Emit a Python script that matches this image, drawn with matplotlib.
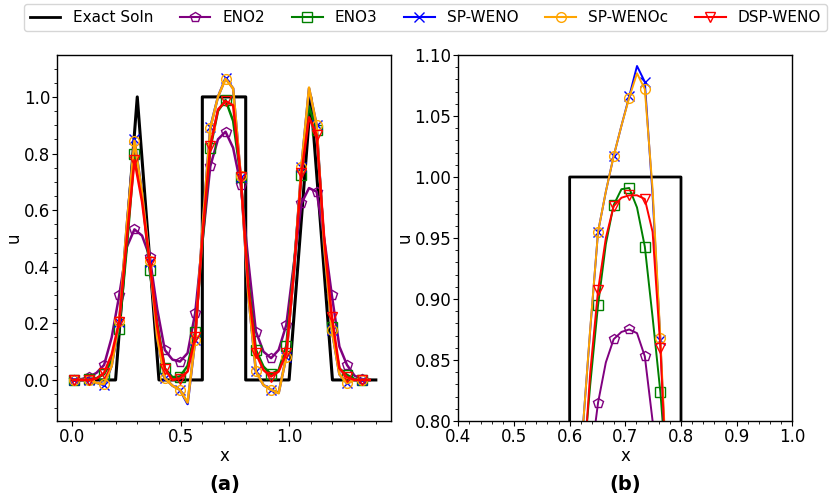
import numpy as np
import matplotlib.pyplot as plt
from matplotlib.lines import Line2D

plt.rcParams.update({
    'font.size': 12,
    'font.family': 'DejaVu Sans',
    'axes.linewidth': 1.0,
    'xtick.major.pad': 1.5,
    'ytick.major.pad': 1.5,
    'axes.labelpad': 0.5,
})

# exact solution (spike, square, triangle)
x_exact = [0.0, 0.2, 0.3, 0.4, 0.6, 0.6, 0.8, 0.8, 1.0, 1.1, 1.2, 1.4]
u_exact = [0.0, 0.0, 1.0, 0.0, 0.0, 1.0, 1.0, 0.0, 0.0, 1.0, 0.0, 0.0]

# panel (a): cell centres, every 0.035
x_a = [0.007, 0.042, 0.077, 0.112, 0.147, 0.182, 0.217, 0.252, 0.287, 0.322,
       0.357, 0.392, 0.427, 0.462, 0.497, 0.532, 0.567, 0.602, 0.637, 0.672,
       0.707, 0.742, 0.777, 0.812, 0.847, 0.882, 0.917, 0.952, 0.987, 1.022,
       1.057, 1.092, 1.127, 1.162, 1.197, 1.232, 1.267, 1.302, 1.337, 1.372]

eno2_a = [0.0, 0.003, 0.01, 0.025, 0.053, 0.15, 0.30, 0.47, 0.532, 0.51,
          0.436, 0.25, 0.106, 0.072, 0.065, 0.095, 0.236, 0.50, 0.756, 0.85,
          0.877, 0.82, 0.689, 0.42, 0.171, 0.10, 0.077, 0.106, 0.194, 0.41,
          0.624, 0.678, 0.665, 0.50, 0.30, 0.118, 0.053, 0.015, 0.003, 0.0]

eno3_a = [0.0, 0.0, 0.002, 0.006, 0.02, 0.07, 0.179, 0.47, 0.80, 0.66,
          0.389, 0.20, 0.041, 0.01, 0.012, 0.05, 0.171, 0.50, 0.819, 0.95,
          0.989, 0.915, 0.718, 0.35, 0.106, 0.047, 0.02, 0.035, 0.12, 0.40,
          0.724, 0.966, 0.883, 0.48, 0.188, 0.04, 0.018, 0.003, 0.0, 0.0]

spweno_a = [0.0, 0.0, 0.0, -0.01, -0.018, 0.05, 0.206, 0.55, 0.85, 0.66,
            0.418, 0.15, 0.006, -0.02, -0.035, -0.085, 0.141, 0.55, 0.893, 1.00,
            1.066, 1.03, 0.718, 0.30, 0.03, -0.018, -0.035, -0.045, 0.082, 0.38,
            0.754, 1.03, 0.90, 0.47, 0.177, 0.02, -0.012, 0.0, 0.0, 0.0]

spwenoc_a = [0.0, 0.0, 0.0, -0.01, -0.015, 0.05, 0.21, 0.55, 0.845, 0.66,
             0.42, 0.15, 0.006, -0.02, -0.035, -0.08, 0.141, 0.55, 0.89, 1.00,
             1.064, 1.03, 0.72, 0.30, 0.03, -0.018, -0.035, -0.047, 0.082, 0.38,
             0.754, 1.033, 0.90, 0.47, 0.177, 0.02, -0.012, 0.0, 0.0, 0.0]

dspweno_a = [0.0, 0.0, 0.0, 0.005, 0.025, 0.09, 0.206, 0.50, 0.777, 0.63,
             0.418, 0.19, 0.04, 0.0, 0.005, 0.03, 0.153, 0.52, 0.827, 0.955,
             0.985, 0.97, 0.718, 0.33, 0.094, 0.035, 0.012, 0.03, 0.094, 0.38,
             0.73, 0.928, 0.866, 0.50, 0.224, 0.041, 0.01, 0.0, 0.0, 0.0]

# panel (b): zoom on the square, cell centres every 0.014
x_b = [0.609, 0.623, 0.637, 0.651, 0.665, 0.679, 0.693,
       0.707, 0.721, 0.735, 0.749, 0.763, 0.777, 0.791]
eno2_b = [0.64, 0.70, 0.765, 0.815, 0.848, 0.867, 0.873,
          0.875, 0.872, 0.853, 0.80, 0.74, 0.66, 0.57]
eno3_b = [0.68, 0.755, 0.83, 0.895, 0.945, 0.977, 0.99,
          0.991, 0.975, 0.943, 0.885, 0.8235, 0.74, 0.62]
spweno_b = [0.70, 0.79, 0.875, 0.955, 0.988, 1.017, 1.042,
            1.066, 1.091, 1.078, 0.985, 0.866, 0.72, 0.55]
spwenoc_b = [0.70, 0.79, 0.876, 0.955, 0.988, 1.017, 1.042,
             1.065, 1.085, 1.072, 0.99, 0.868, 0.73, 0.56]
dspweno_b = [0.66, 0.745, 0.84, 0.907, 0.950, 0.976, 0.983,
             0.985, 0.985, 0.982, 0.955, 0.86, 0.72, 0.58]

labels = ['ENO2', 'ENO3', 'SP-WENO', 'SP-WENOc', 'DSP-WENO']
colors = ['purple', 'green', 'blue', 'orange', 'red']
markers = ['p', 's', 'x', 'o', 'v']

series_a = [eno2_a, eno3_a, spweno_a, spwenoc_a, dspweno_a]
series_b = [eno2_b, eno3_b, spweno_b, spwenoc_b, dspweno_b]


def draw(ax, x, series, lw, lw_exact, markevery):
    ax.plot(x_exact, u_exact, color='black', linewidth=lw_exact)
    for u, c, m in zip(series, colors, markers):
        ax.plot(x, u, color=c, linewidth=lw, marker=m, markersize=7,
                markerfacecolor='none', markeredgecolor=c, markeredgewidth=1.0,
                markevery=markevery)
    ax.minorticks_on()
    ax.set_xlabel('x')
    ax.set_ylabel('u')


fig = plt.figure(figsize=(8.3, 5.01), dpi=100)
ax1 = fig.add_axes([0.0687, 0.1597, 0.4024, 0.7305])
ax2 = fig.add_axes([0.5522, 0.1597, 0.4024, 0.7305])

draw(ax1, x_a, series_a, 1.8, 2.2, 2)
ax1.set_xlim(-0.07, 1.47)
ax1.set_ylim(-0.145, 1.148)
ax1.set_xticks([0.0, 0.5, 1.0])
ax1.set_yticks([0.0, 0.2, 0.4, 0.6, 0.8, 1.0])

draw(ax2, x_b, series_b, 1.4, 2.0, (1, 2))
ax2.set_xlim(0.4, 1.0)
ax2.set_ylim(0.8, 1.1)

handles = [Line2D([], [], color='black', linewidth=2.0, label='Exact Soln')]
for lab, c, m in zip(labels, colors, markers):
    handles.append(Line2D([], [], color=c, linewidth=1.5, marker=m, markersize=7,
                          markerfacecolor='none', markeredgecolor=c, label=lab))
fig.legend(handles=handles, loc='upper center', ncol=6, fontsize=11,
           bbox_to_anchor=(0.5127, 1.007), columnspacing=1.75)

fig.text(0.271, 0.032, '(a)', fontsize=14, fontweight='bold', ha='center', va='center')
fig.text(0.753, 0.032, '(b)', fontsize=14, fontweight='bold', ha='center', va='center')

fig.savefig('out.png', dpi=100)
plt.close()
